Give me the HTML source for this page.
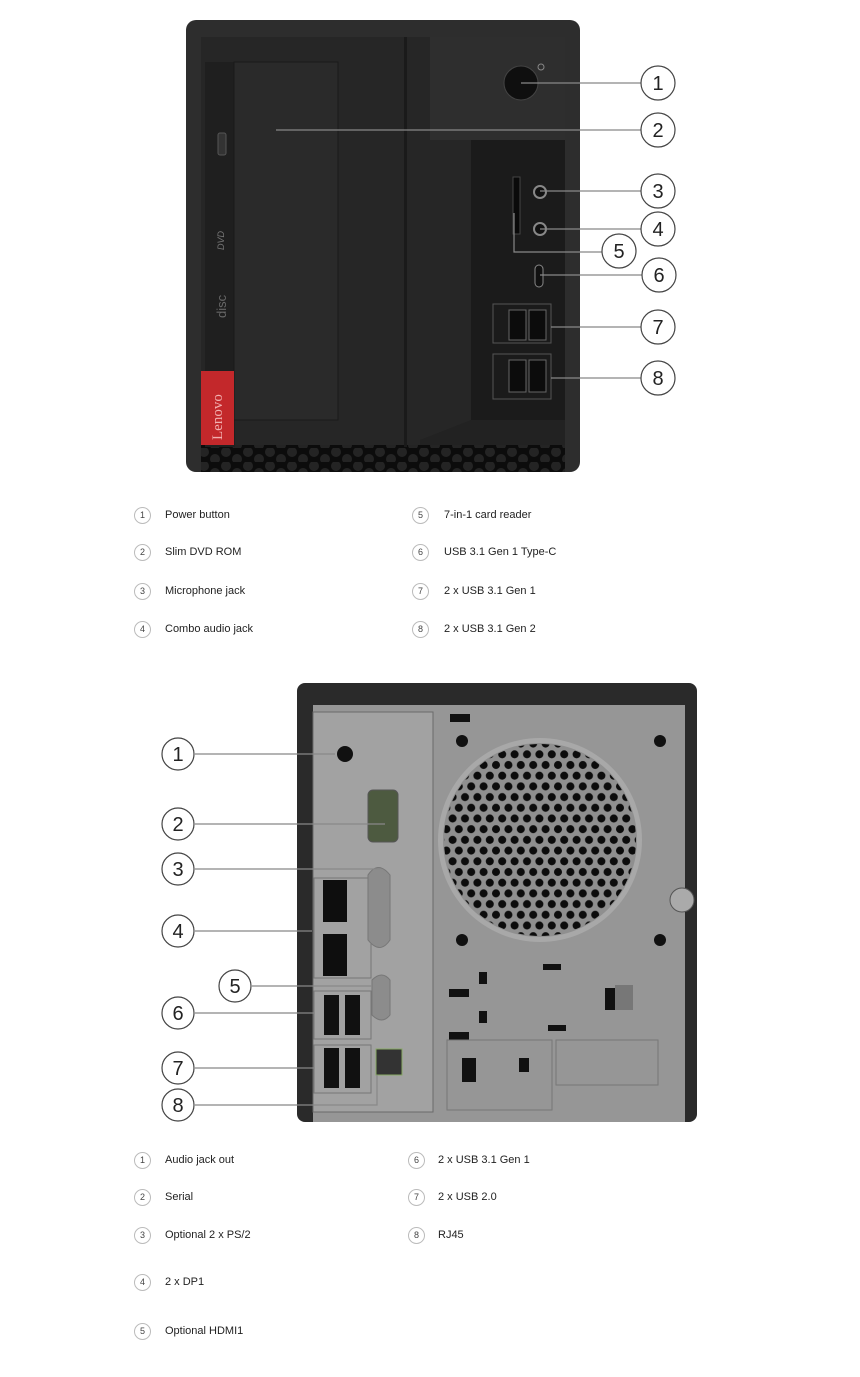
<!DOCTYPE html>
<html><head><meta charset="utf-8"><style>
body{margin:0;background:#fff;width:860px;height:1377px;position:relative;overflow:hidden;font-family:"Liberation Sans",sans-serif}
svg{position:absolute;left:0;top:0}
.l{position:absolute;font-size:11px;color:#222;line-height:14px}
.c{position:absolute;width:15px;height:15px;border:1px solid #bbb;border-radius:50%;font-size:9px;text-align:center;line-height:15px;color:#444;background:#fff}
</style></head><body>
<svg width="860" height="1377" viewBox="0 0 860 1377">
<defs>
<pattern id="hex" width="22" height="14" patternUnits="userSpaceOnUse"><rect width="22" height="14" fill="#0c0c0c"/><circle cx="6" cy="4" r="5" fill="#242424"/><circle cx="17" cy="11" r="5" fill="#242424"/></pattern>
<pattern id="fan" width="12.4" height="21.4" patternUnits="userSpaceOnUse"><rect width="12.4" height="21.4" fill="#8f8f8f"/><circle cx="6.2" cy="5.3" r="4" fill="#0c0c0c"/><circle cx="0" cy="16" r="4" fill="#0c0c0c"/><circle cx="12.4" cy="16" r="4" fill="#0c0c0c"/></pattern>
<clipPath id="fc"><circle cx="540" cy="840" r="96"/></clipPath>
</defs>
<!-- TOP PHOTO -->
<rect x="186" y="20" width="394" height="452" rx="10" fill="#2d2d2d"/>
<rect x="201" y="37" width="364" height="410" fill="#262626"/>
<rect x="201" y="445" width="364" height="27" fill="url(#hex)"/>
<rect x="205" y="62" width="30" height="385" fill="#1f1f1f"/>
<rect x="234" y="62" width="104" height="358" fill="#2a2a2a" stroke="#1a1a1a"/>
<rect x="404" y="37" width="3" height="410" fill="#1a1a1a"/>
<rect x="201" y="371" width="33" height="74" fill="#c3282b"/>
<text x="0" y="0" transform="translate(222,440) rotate(-90)" font-size="15" fill="#f2b0b0" font-family="Liberation Serif">Lenovo</text>
<rect x="218" y="133" width="8" height="22" rx="2" fill="#333" stroke="#555"/>
<text x="0" y="0" transform="translate(224,250) rotate(-90)" font-size="9" fill="#777" font-style="italic">DVD</text>
<text x="0" y="0" transform="translate(226,318) rotate(-90)" font-size="13" fill="#666">disc</text>
<rect x="430" y="37" width="135" height="103" fill="#2e2e2e"/>
<rect x="471" y="140" width="94" height="300" fill="#1b1b1b"/>
<polygon points="420,440 471,420 565,420 565,445 420,445" fill="#222"/>
<circle cx="521" cy="83" r="17" fill="#0f0f0f" stroke="#444"/>
<circle cx="541" cy="67" r="3" fill="none" stroke="#888"/>
<rect x="513" y="177" width="7" height="57" fill="#0a0a0a" stroke="#444"/>
<circle cx="540" cy="192" r="6" fill="#111" stroke="#888" stroke-width="2"/>
<circle cx="540" cy="229" r="6" fill="#111" stroke="#888" stroke-width="2"/>
<rect x="535" y="265" width="8" height="22" rx="4" fill="#111" stroke="#888"/>
<rect x="493" y="304" width="58" height="39" fill="none" stroke="#555"/>
<rect x="493" y="354" width="58" height="45" fill="none" stroke="#555"/>
<rect x="509" y="310" width="17" height="30" fill="#0c0c0c" stroke="#666"/><rect x="529" y="310" width="17" height="30" fill="#0c0c0c" stroke="#666"/>
<rect x="509" y="360" width="17" height="32" fill="#0c0c0c" stroke="#666"/><rect x="529" y="360" width="17" height="32" fill="#0c0c0c" stroke="#666"/>
<g stroke="#888" stroke-width="1.2" fill="none">
<line x1="521" y1="83" x2="641" y2="83"/><line x1="276" y1="130" x2="641" y2="130"/>
<line x1="540" y1="191" x2="641" y2="191"/><line x1="540" y1="229" x2="641" y2="229"/>
<polyline points="514,213 514,252 602,252"/><line x1="540" y1="275" x2="642" y2="275"/>
<line x1="551" y1="327" x2="641" y2="327"/><line x1="551" y1="378" x2="641" y2="378"/>
</g>
<g fill="#fff" stroke="#444" stroke-width="1.2">
<circle cx="658" cy="83" r="17"/><circle cx="658" cy="130" r="17"/><circle cx="658" cy="191" r="17"/><circle cx="658" cy="229" r="17"/><circle cx="619" cy="251" r="17"/><circle cx="659" cy="275" r="17"/><circle cx="658" cy="327" r="17"/><circle cx="658" cy="378" r="17"/>
</g>
<g fill="#222" font-size="20" text-anchor="middle">
<text x="658" y="90">1</text><text x="658" y="137">2</text><text x="658" y="198">3</text><text x="658" y="236">4</text><text x="619" y="258">5</text><text x="659" y="282">6</text><text x="658" y="334">7</text><text x="658" y="385">8</text>
</g>
<!-- BOTTOM PHOTO -->
<rect x="297" y="683" width="400" height="439" rx="8" fill="#2a2a2a"/>
<rect x="313" y="705" width="372" height="417" fill="#969696"/>
<rect x="313" y="712" width="120" height="400" fill="#a2a2a2" stroke="#6a6a6a"/>
<circle cx="540" cy="840" r="102" fill="#a8a8a8"/>
<circle cx="540" cy="840" r="97" fill="#8f8f8f"/>
<rect x="440" y="740" width="210" height="200" fill="url(#fan)" clip-path="url(#fc)"/>
<g fill="#111"><circle cx="462" cy="741" r="6"/><circle cx="660" cy="741" r="6"/><circle cx="462" cy="940" r="6"/><circle cx="660" cy="940" r="6"/>
<rect x="450" y="714" width="20" height="8"/><rect x="449" y="989" width="20" height="8"/><rect x="449" y="1032" width="20" height="8"/>
<rect x="479" y="972" width="8" height="12"/><rect x="479" y="1011" width="8" height="12"/><rect x="462" y="1058" width="14" height="24"/><rect x="519" y="1058" width="10" height="14"/>
<rect x="543" y="964" width="18" height="6"/><rect x="605" y="988" width="10" height="22"/><rect x="548" y="1025" width="18" height="6"/></g>
<rect x="447" y="1040" width="105" height="70" fill="none" stroke="#777"/><rect x="556" y="1040" width="102" height="45" fill="none" stroke="#777"/>
<rect x="615" y="985" width="18" height="25" fill="#777"/>
<circle cx="682" cy="900" r="12" fill="#aaa" stroke="#555"/>
<circle cx="345" cy="754" r="8" fill="#111"/>
<rect x="368" y="790" width="30" height="52" rx="5" fill="#4d5a40" stroke="#555"/>
<rect x="314" y="878" width="57" height="100" fill="none" stroke="#777"/>
<rect x="323" y="880" width="24" height="42" fill="#0e0e0e"/><rect x="323" y="934" width="24" height="42" fill="#0e0e0e"/>
<path d="M368,875 q10,-15 22,0 v65 q-10,15 -22,0z" fill="#8c8c8c" stroke="#777"/>
<path d="M372,980 q10,-10 18,0 v35 q-8,10 -18,0z" fill="#8c8c8c" stroke="#777"/>
<rect x="314" y="991" width="57" height="48" fill="none" stroke="#777"/><rect x="314" y="1045" width="57" height="48" fill="none" stroke="#777"/>
<rect x="324" y="995" width="15" height="40" fill="#111"/><rect x="345" y="995" width="15" height="40" fill="#111"/>
<rect x="324" y="1048" width="15" height="40" fill="#111"/><rect x="345" y="1048" width="15" height="40" fill="#111"/>
<rect x="376" y="1049" width="26" height="26" fill="#333" stroke="#8a6"/>
<g stroke="#888" stroke-width="1.2" fill="none">
<line x1="195" y1="754" x2="335" y2="754"/><line x1="195" y1="824" x2="385" y2="824"/>
<line x1="195" y1="869" x2="380" y2="869"/><line x1="195" y1="931" x2="312" y2="931"/>
<line x1="252" y1="986" x2="372" y2="986"/><line x1="195" y1="1013" x2="315" y2="1013"/>
<line x1="195" y1="1068" x2="315" y2="1068"/><polyline points="195,1105 377,1105 377,1075"/>
</g>
<g fill="#fff" stroke="#444" stroke-width="1.2">
<circle cx="178" cy="754" r="16"/><circle cx="178" cy="824" r="16"/><circle cx="178" cy="869" r="16"/><circle cx="178" cy="931" r="16"/><circle cx="235" cy="986" r="16"/><circle cx="178" cy="1013" r="16"/><circle cx="178" cy="1068" r="16"/><circle cx="178" cy="1105" r="16"/>
</g>
<g fill="#222" font-size="20" text-anchor="middle">
<text x="178" y="761">1</text><text x="178" y="831">2</text><text x="178" y="876">3</text><text x="178" y="938">4</text><text x="235" y="993">5</text><text x="178" y="1020">6</text><text x="178" y="1075">7</text><text x="178" y="1112">8</text>
</g>
</svg>
<div class="c" style="left:134px;top:507px">1</div><div class="l" style="left:165px;top:508px">Power button</div>
<div class="c" style="left:134px;top:544px">2</div><div class="l" style="left:165px;top:545px">Slim DVD ROM</div>
<div class="c" style="left:134px;top:583px">3</div><div class="l" style="left:165px;top:584px">Microphone jack</div>
<div class="c" style="left:134px;top:621px">4</div><div class="l" style="left:165px;top:622px">Combo audio jack</div>
<div class="c" style="left:412px;top:507px">5</div><div class="l" style="left:444px;top:508px">7-in-1 card reader</div>
<div class="c" style="left:412px;top:544px">6</div><div class="l" style="left:444px;top:545px">USB 3.1 Gen 1 Type-C</div>
<div class="c" style="left:412px;top:583px">7</div><div class="l" style="left:444px;top:584px">2 x USB 3.1 Gen 1</div>
<div class="c" style="left:412px;top:621px">8</div><div class="l" style="left:444px;top:622px">2 x USB 3.1 Gen 2</div>
<div class="c" style="left:134px;top:1152px">1</div><div class="l" style="left:165px;top:1153px">Audio jack out</div>
<div class="c" style="left:134px;top:1189px">2</div><div class="l" style="left:165px;top:1190px">Serial</div>
<div class="c" style="left:134px;top:1227px">3</div><div class="l" style="left:165px;top:1228px">Optional 2 x PS/2</div>
<div class="c" style="left:134px;top:1274px">4</div><div class="l" style="left:165px;top:1275px">2 x DP1</div>
<div class="c" style="left:134px;top:1323px">5</div><div class="l" style="left:165px;top:1324px">Optional HDMI1</div>
<div class="c" style="left:408px;top:1152px">6</div><div class="l" style="left:438px;top:1153px">2 x USB 3.1 Gen 1</div>
<div class="c" style="left:408px;top:1189px">7</div><div class="l" style="left:438px;top:1190px">2 x USB 2.0</div>
<div class="c" style="left:408px;top:1227px">8</div><div class="l" style="left:438px;top:1228px">RJ45</div>
</body></html>
